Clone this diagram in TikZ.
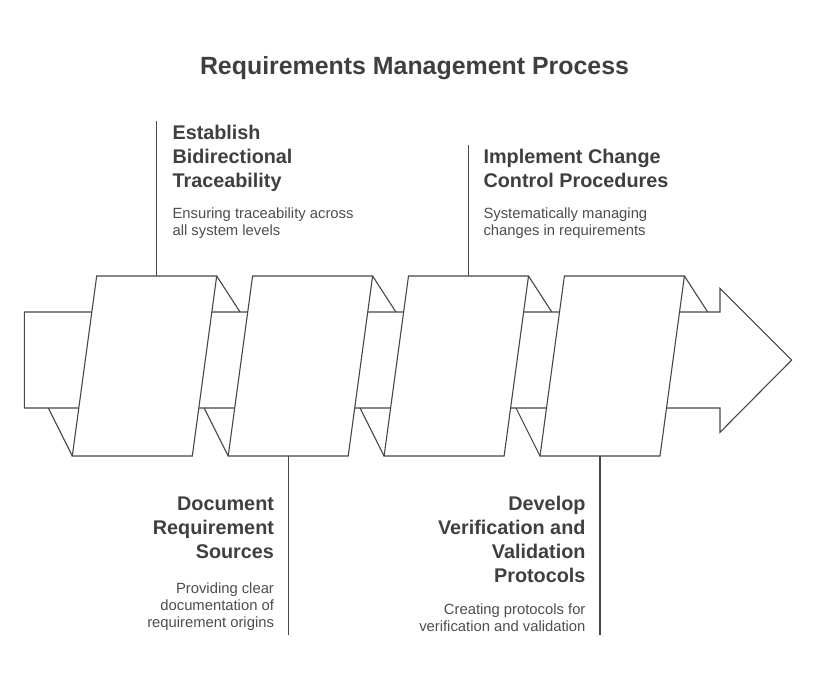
\documentclass[tikz,border=0pt]{standalone}
\usepackage{fontspec}
\setmainfont{Liberation Sans}
\usetikzlibrary{calc}
\definecolor{linec}{HTML}{474747}
\definecolor{headc}{HTML}{3F3F3F}
\definecolor{descc}{HTML}{4D4D4D}
\begin{document}
\begin{tikzpicture}[x=1pt,y=-1pt,line width=1.1pt,
  outl/.style={draw=linec,fill=white,line join=miter},
  conn/.style={draw=linec},
  titletxt/.style={inner sep=0pt,text=headc,font=\fontsize{24.9}{30}\selectfont\bfseries},
  headtxt/.style={inner sep=0pt,text=headc,font=\fontsize{19.8}{24}\selectfont\bfseries},
  desctxt/.style={inner sep=0pt,text=descc,font=\fontsize{14.8}{17}\selectfont}]
\useasboundingbox (0,0) rectangle (829,673);
\node[titletxt,anchor=base] (title) at (414.5,74) {Requirements Management Process};
% band with arrow head
\draw[outl] (24.3,312) -- (720,312) -- (720,288.3) -- (791.7,360) -- (720,432.3) -- (720,408) -- (24.3,408) -- cycle;
% parallelogram panels with folds
\foreach \i in {1,...,4}{
  \pgfmathsetmacro\xl{96.7+(\i-1)*155.9}
  \coordinate (p\i tl) at (\xl,276);
  \coordinate (p\i tr) at (\xl+120,276);
  \coordinate (p\i br) at (\xl+95.6,456);
  \coordinate (p\i bl) at (\xl-24.4,456);
  \draw[conn] (p\i tr) -- ++(23.3,36);
  \draw[conn] (p\i bl) -- ++(-24,-48);
  \draw[outl] (p\i tl) -- (p\i tr) -- (p\i br) -- (p\i bl) -- cycle;
}
\coordinate (p1top) at ($(p1tl)!0.5!(p1tr)$);
\coordinate (p3top) at ($(p3tl)!0.5!(p3tr)$);
\coordinate (p2bot) at ($(p2bl)!0.5!(p2br)$);
\coordinate (p4bot) at ($(p4bl)!0.5!(p4br)$);
\coordinate (s1) at ($(p1top)+(0,-155)$);
\coordinate (s3) at ($(p3top)+(0,-131)$);
\coordinate (s2) at ($(p2bot)+(0,179)$);
\coordinate (s4) at ($(p4bot)+(0,179)$);
\draw[conn] (p1top) -- (s1);
\draw[conn] (p3top) -- (s3);
\draw[conn] (p2bot) -- (s2);
\draw[conn] (p4bot) -- (s4);
% texts
\node[headtxt,anchor=north west,align=left] (h1) at (172,121.2) {\rule{0pt}{0.9em}Establish\\Bidirectional\\Traceability};
\node[desctxt,anchor=north west,align=left] (d1) at (172,204.7) {\rule{0pt}{0.9em}Ensuring traceability across\\all system levels};
\node[headtxt,anchor=north west,align=left] (h3) at (483,145.2) {\rule{0pt}{0.9em}Implement Change\\Control Procedures};
\node[desctxt,anchor=north west,align=left] (d3) at (483,204.7) {\rule{0pt}{0.9em}Systematically managing\\changes in requirements};
\node[headtxt,anchor=north east,align=right] (h2) at (274.5,492.2) {\rule{0pt}{0.9em}Document\\Requirement\\Sources};
\node[desctxt,anchor=north east,align=right] (d2) at (274.5,579.7) {\rule{0pt}{0.9em}Providing clear\\documentation of\\requirement origins};
\node[headtxt,anchor=north east,align=right] (h4) at (586,492.2) {\rule{0pt}{0.9em}Develop\\Verification and\\Validation\\Protocols};
\node[desctxt,anchor=north east,align=right] (d4) at (586,600.7) {\rule{0pt}{0.9em}Creating protocols for\\verification and validation};
\end{tikzpicture}
\end{document}
